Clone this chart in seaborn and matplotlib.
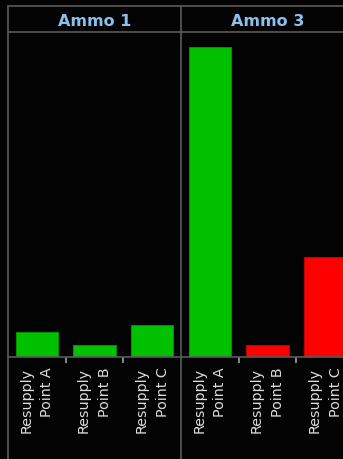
import numpy as np
import pandas as pd
import matplotlib
matplotlib.use("Agg")
import matplotlib.pyplot as plt
import seaborn as sns
from matplotlib.lines import Line2D

# ---- data ----
points = ["Resupply\nPoint A", "Resupply\nPoint B", "Resupply\nPoint C"]
ammo_names = ["Ammo 1", "Ammo 3"]
ammo1_values = [8.1, 3.9, 10.3]
ammo3_values = [100.0, 3.9, 32.3]
ammo1_status = ["ok", "ok", "ok"]
ammo3_status = ["ok", "low", "low"]

PALETTE = {"ok": "#00c000", "low": "#ff0000"}
BG = "#030303"
GRID = "#5a5a5a"
TITLE_COLOR = "#8cc0ec"
LABEL_COLOR = "#dcdcdc"

sns.set_theme(style="dark")
plt.rcParams["font.family"] = ["DejaVu Sans"]

W, H = 343, 460
fig = plt.figure(figsize=(W / 100, H / 100), dpi=100, facecolor=BG)


def fx(px):
    return px / W


def fy(py):
    return 1 - py / H


left_px, facet_w = 8, 173
top_hdr, bot_hdr, base_px = 7, 33, 358

series = [(ammo1_values, ammo1_status), (ammo3_values, ammo3_status)]
for i, (name, (vals, stat)) in enumerate(zip(ammo_names, series)):
    x0 = left_px + i * facet_w
    ax = fig.add_axes([fx(x0), fy(base_px), facet_w / W, (base_px - bot_hdr) / H])
    ax.set_facecolor(BG)
    df = pd.DataFrame({"point": points, "value": vals, "status": stat})
    sns.barplot(data=df, x="point", y="value", hue="status", palette=PALETTE,
                dodge=False, legend=False, width=0.73, saturation=1, ax=ax,
                order=points)
    # edge colours follow bar colour, a bit darker
    for patch in ax.patches:
        fc = patch.get_facecolor()
        patch.set_edgecolor(tuple(c * 0.82 for c in fc[:3]))
        patch.set_linewidth(0.6)
    ax.set_ylim(0, 104.8)
    ax.set_xlim(-0.5, 2.5)
    ax.set_xlabel("")
    ax.set_ylabel("")
    ax.set_yticks([])
    ax.grid(False)
    for sp in ["top", "right", "left"]:
        ax.spines[sp].set_visible(False)
    ax.spines["bottom"].set_visible(True)
    ax.spines["bottom"].set_color(GRID)
    ax.spines["bottom"].set_linewidth(1.2)
    ax.set_xticks(range(len(points)))
    ax.set_xticklabels(points, rotation=90, ha="center", va="top",
                       multialignment="right", color=LABEL_COLOR, fontsize=10.3,
                       linespacing=1.65)
    ax.set_xticks([0.5, 1.5], minor=True)
    ax.tick_params(axis="x", which="both", bottom=True)
    ax.tick_params(axis="x", which="major", length=0, pad=7)
    ax.tick_params(axis="x", which="minor", length=4, width=1.2, color="#a0a0a0",
                   direction="out")

    # header cell
    hx = fig.add_axes([fx(x0), fy(bot_hdr), facet_w / W, (bot_hdr - top_hdr) / H])
    hx.set_facecolor(BG)
    hx.set_xticks([])
    hx.set_yticks([])
    for sp in hx.spines.values():
        sp.set_visible(False)
    hx.text(0.5, 0.45, name, ha="center", va="center", color=TITLE_COLOR,
            fontsize=11.5, fontweight="bold", transform=hx.transAxes)

# frame lines
for xp in [left_px, left_px + facet_w]:
    fig.add_artist(Line2D([fx(xp), fx(xp)], [fy(top_hdr), 0], color=GRID, lw=1.2))
for yp in [top_hdr, bot_hdr]:
    fig.add_artist(Line2D([fx(left_px), 1], [fy(yp), fy(yp)], color=GRID, lw=1.2))

fig.savefig("out.png", dpi=100, facecolor=BG)
